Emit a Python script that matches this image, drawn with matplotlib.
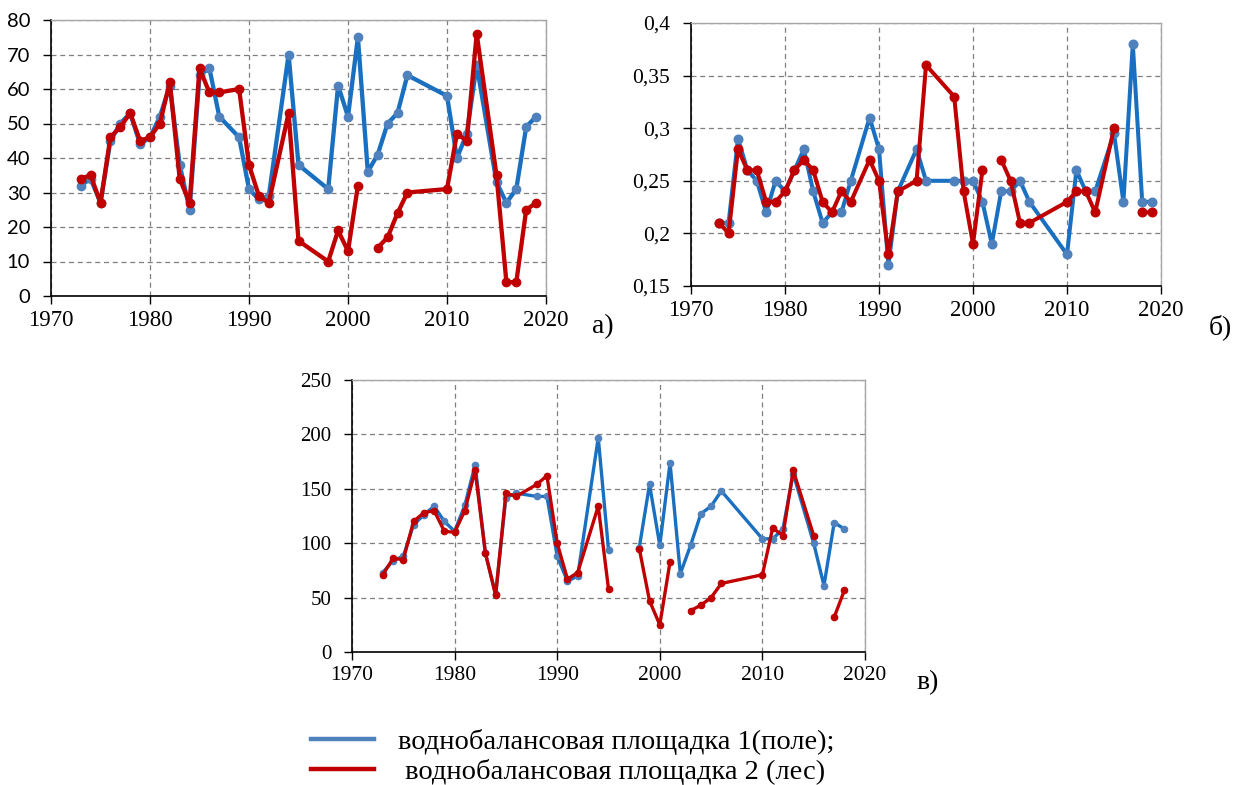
import numpy as np
import matplotlib
matplotlib.use('Agg')
import matplotlib.pyplot as plt
from matplotlib.lines import Line2D

nan = np.nan

# panel a) and б) share the same set of observation years
years_ab = [1973, 1974, 1975, 1976, 1977, 1978, 1979, 1980, 1981, 1982, 1983, 1984,
            1985, 1986, 1987, 1989, 1990, 1991, 1992, 1994, 1995, 1998, 1999, 2000,
            2001, 2002, 2003, 2004, 2005, 2006, 2010, 2011, 2012, 2013, 2015, 2016,
            2017, 2018, 2019]

a_field = [32, 34, 27, 45, 50, 53, 44, 46, 52, 61, 38, 25,
           64, 66, 52, 46, 31, 28, 29, 70, 38, 31, 61, 52,
           75, 36, 41, 50, 53, 64, 58, 40, 47, 67, 33, 27,
           31, 49, 52]
a_forest = [34, 35, 27, 46, 49, 53, 45, 46, 50, 62, 34, 27,
            66, 59, 59, 60, 38, 29, 27, 53, 16, 10, 19, 13,
            32, nan, 14, 17, 24, 30, 31, 47, 45, 76, 35, 4,
            4, 25, 27]

b_field = [0.21, 0.21, 0.29, 0.26, 0.25, 0.22, 0.25, 0.24, 0.26, 0.28, 0.24, 0.21,
           0.22, 0.22, 0.25, 0.31, 0.28, 0.17, 0.24, 0.28, 0.25, 0.25, 0.25, 0.25,
           0.23, 0.19, 0.24, 0.24, 0.25, 0.23, 0.18, 0.26, 0.24, 0.24, 0.295, 0.23,
           0.38, 0.23, 0.23]
b_forest = [0.21, 0.20, 0.28, 0.26, 0.26, 0.23, 0.23, 0.24, 0.26, 0.27, 0.26, 0.23,
            0.22, 0.24, 0.23, 0.27, 0.25, 0.18, 0.24, 0.25, 0.36, 0.33, 0.24, 0.19,
            0.26, nan, 0.27, 0.25, 0.21, 0.21, 0.23, 0.24, 0.24, 0.22, 0.30, nan,
            nan, 0.22, 0.22]

# panel в)
years_c = [1973, 1974, 1975, 1976, 1977, 1978, 1979, 1980, 1981, 1982, 1983, 1984,
           1985, 1986, 1988, 1989, 1990, 1991, 1992, 1994, 1995, 1996, 1998, 1999,
           2000, 2001, 2002, 2003, 2004, 2005, 2006, 2010, 2011, 2012, 2013, 2015,
           2016, 2017, 2018]
c_field = [73, 84, 88, 117, 126, 134, 120, 111, 135, 172, 91, 53,
           142, 146, 143, 143, 88, 65, 70, 197, 94, nan, 96, 154,
           98, 174, 72, 98, 127, 134, 148, 104, 104, 113, 164, 100,
           61, 119, 113]
c_forest = [71, 86, 85, 120, 128, 130, 111, 110, 130, 167, 91, 52,
            146, 143, 154, 162, 100, 67, 73, 134, 58, nan, 95, 47,
            25, 83, nan, 38, 43, 50, 63, 71, 114, 107, 167, 107,
            nan, 32, 57]

labels = ['воднобалансовая площадка 1(поле);', ' воднобалансовая площадка 2 (лес)']

blue_line = '#1a70c0'
blue_mark = '#4f81bd'
red = '#c00000'
W, H = 1238, 785

fig = plt.figure(figsize=(W / 100, H / 100), dpi=100)


def px_axes(left, top, right, bottom):
    return fig.add_axes([left / W, 1 - bottom / H, (right - left) / W, (bottom - top) / H])


def style(ax, ylim, yticks, ylabels, yfont, ysize, xsize):
    ax.set_xlim(1970, 2020)
    ax.set_ylim(*ylim)
    ax.set_xticks(range(1970, 2021, 10))
    ax.set_yticks(yticks)
    ax.set_yticklabels(ylabels, fontfamily=yfont, fontsize=ysize)
    for t in ax.get_xticklabels():
        t.set_fontfamily('Liberation Serif')
        t.set_fontsize(xsize)
    ax.tick_params(direction='out', length=6, width=1, colors='black', pad=4)
    ax.tick_params(axis='y', pad=9)
    ax.grid(True, color='#7f7f7f', linestyle=(0, (4, 3)), linewidth=0.9)
    ax.set_axisbelow(True)
    ax.spines['left'].set_color('black')
    ax.spines['bottom'].set_color('black')
    ax.spines['left'].set_linewidth(1.2)
    ax.spines['bottom'].set_linewidth(1.2)
    for s in ['top', 'right']:
        ax.spines[s].set_color('#a6a6a6')
        ax.spines[s].set_linewidth(1)


def draw(ax, x, field, forest, lw, ms):
    ax.plot(x, field, color=blue_line, lw=lw, marker='o', ms=ms,
            mfc=blue_mark, mec=blue_mark, zorder=3, clip_on=False)
    ax.plot(x, forest, color=red, lw=lw, marker='o', ms=ms,
            mfc=red, mec=red, zorder=4, clip_on=False)


# а)
ax_a = px_axes(51, 20, 546, 296)
draw(ax_a, years_ab, a_field, a_forest, 3.1, 6)
style(ax_a, (0, 80), range(0, 81, 10), [str(v) for v in range(0, 81, 10)],
      'Lato', 14.5, 16.5)

# б)
ax_b = px_axes(691, 23, 1161, 286)
draw(ax_b, years_ab, b_field, b_forest, 2.9, 6.2)
b_ticks = [0.15, 0.2, 0.25, 0.3, 0.35, 0.4]
style(ax_b, (0.15, 0.4), b_ticks, ['0,15', '0,2', '0,25', '0,3', '0,35', '0,4'],
      'Liberation Serif', 15.5, 16.5)

# в)
ax_c = px_axes(352, 380, 865, 652)
draw(ax_c, years_c, c_field, c_forest, 2.4, 4.5)
style(ax_c, (0, 250), range(0, 251, 50), [str(v) for v in range(0, 251, 50)],
      'Liberation Serif', 15, 15.5)

fig.text(603 / W, 1 - 327 / H, 'а)', fontsize=20, fontfamily='Liberation Serif',
         ha='center', va='center')
fig.text(1220 / W, 1 - 327 / H, 'б)', fontsize=20, fontfamily='Liberation Serif',
         ha='center', va='center')
fig.text(928 / W, 1 - 683 / H, 'в)', fontsize=20, fontfamily='Liberation Serif',
         ha='center', va='center')

handles = [Line2D([], [], color=blue_mark, lw=3.2), Line2D([], [], color=red, lw=3.2)]
fig.legend(handles, labels, loc='upper left', bbox_to_anchor=(300 / W, 1 - 718 / H),
           frameon=False, prop={'family': 'Liberation Serif', 'size': 20.5},
           handlelength=2.2, handletextpad=0.85, labelspacing=0.12, borderaxespad=0)

fig.savefig('out.png', dpi=100)
